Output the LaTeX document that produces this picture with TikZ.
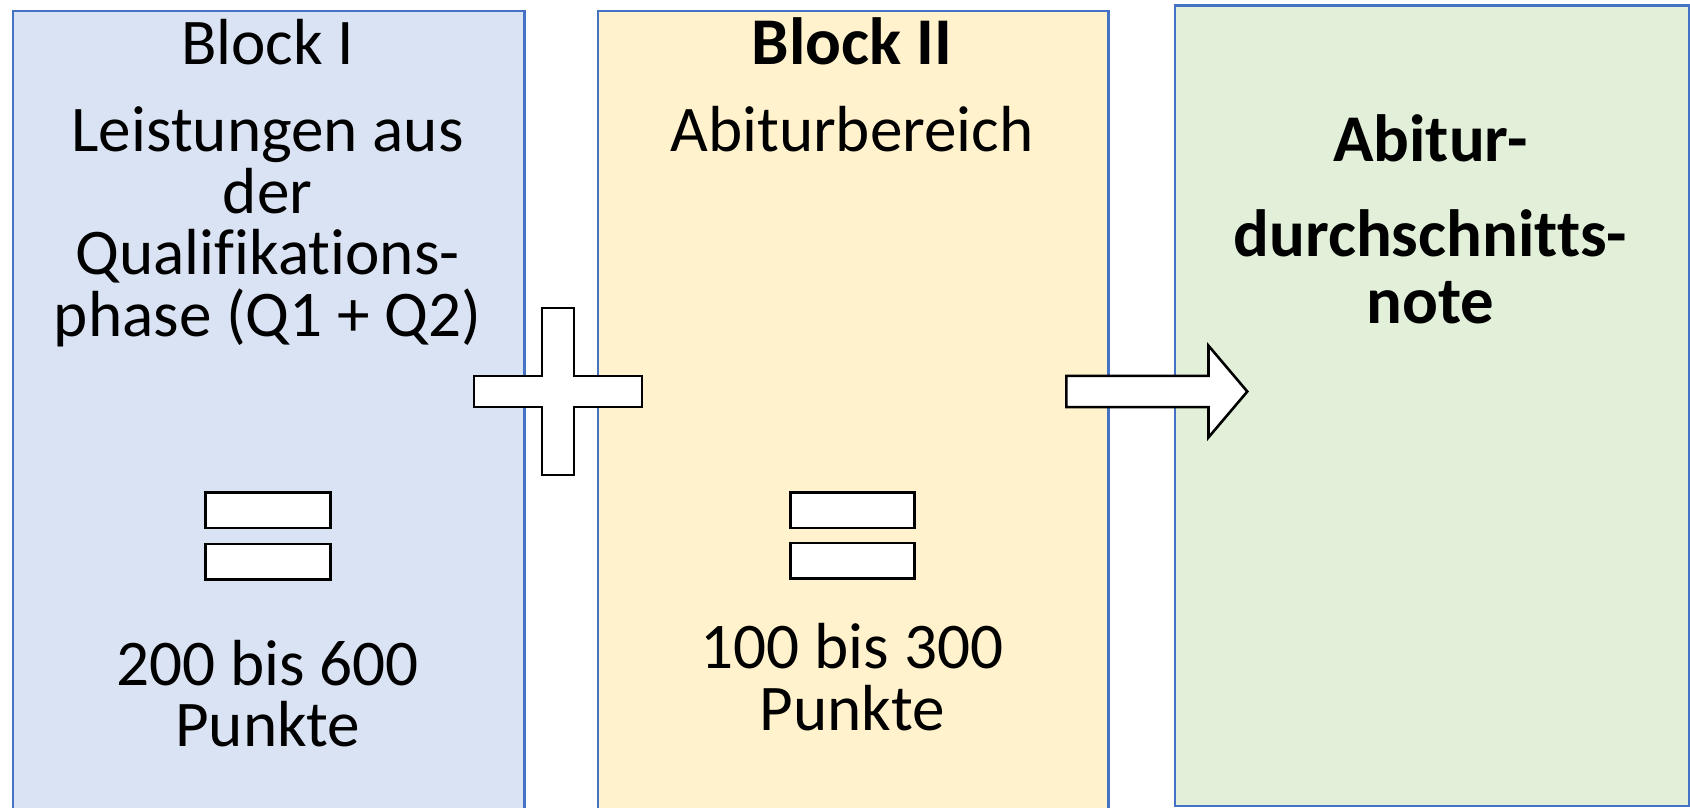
\documentclass[tikz,border=0pt]{standalone}
\usepackage{fontspec}
\setmainfont[Ligatures=NoCommon]{Carlito}
\definecolor{bordercol}{HTML}{4472C4}
\definecolor{fillA}{HTML}{DAE3F3}
\definecolor{fillB}{HTML}{FFF2CC}
\definecolor{fillC}{HTML}{E2F0D9}
\begin{document}
\begin{tikzpicture}[x=1pt,y=-1pt,
  blk/.style={draw=bordercol, line width=2.2pt, inner sep=0pt, anchor=north west},
  sym/.style={draw=black, fill=white, line width=2.4pt, line join=miter},
  txt/.style={anchor=base, inner sep=0pt, font=\fontsize{60.5}{57}\selectfont},
  btxt/.style={anchor=base, inner sep=0pt, font=\fontsize{62}{57}\selectfont\bfseries}]
\useasboundingbox (0,0) rectangle (1569,750);
\clip (0,0) rectangle (1569,750);
\fill[white] (0,0) rectangle (1569,750);
% boxes
\node (boxA) [blk, fill=fillA, minimum width=475pt, minimum height=780pt] at (11,9) {};
\node (boxB) [blk, fill=fillB, minimum width=474pt, minimum height=780pt] at (554,9) {};
\node (boxC) [blk, fill=fillC, minimum width=477pt, minimum height=743pt] at (1090,4) {};
% plus sign
\draw[sym] (503,286) -- (533,286) -- (533,349) -- (596,349) -- (596,378) -- (533,378)
  -- (533,441) -- (503,441) -- (503,378) -- (440,378) -- (440,349) -- (503,349) -- cycle;
% arrow
\draw[sym] (990,349) -- (1122,349) -- (1122,321) -- (1158,363.5) -- (1122,406)
  -- (1122,378) -- (990,378) -- cycle;
% equal signs
\draw[sym] (191,457) rectangle (307,490);
\draw[sym] (191,505) rectangle (307,538);
\draw[sym] (734,457) rectangle (849,490);
\draw[sym] (734,504) rectangle (849,537);
% Block I text
\node (a1) [txt] at (248.5,60) {Block I};
\node (a2) [txt] at (248.5,141) {Leistungen aus};
\node (a3) [txt] at (248.5,198) {der};
\node (a4) [txt] at (248.5,255) {Qualifikations-};
\node (a5) [txt] at (248.5,312) {phase (Q1 + Q2)};
\node (a6) [txt] at (248.5,636) {200 bis 600};
\node (a7) [txt] at (248.5,693) {Punkte};
% Block II text
\node (b1) [btxt] at (791,60) {Block II};
\node (b2) [txt] at (791,141) {Abiturbereich};
\node (b3) [txt] at (791,621) {100 bis 300};
\node (b4) [txt] at (791,678) {Punkte};
% result text
\node (c1) [btxt] at (1328,150) {Abitur-};
\node (c2) [btxt] at (1328,238) {durchschnitts-};
\node (c3) [btxt] at (1328,300) {note};
\end{tikzpicture}
\end{document}
